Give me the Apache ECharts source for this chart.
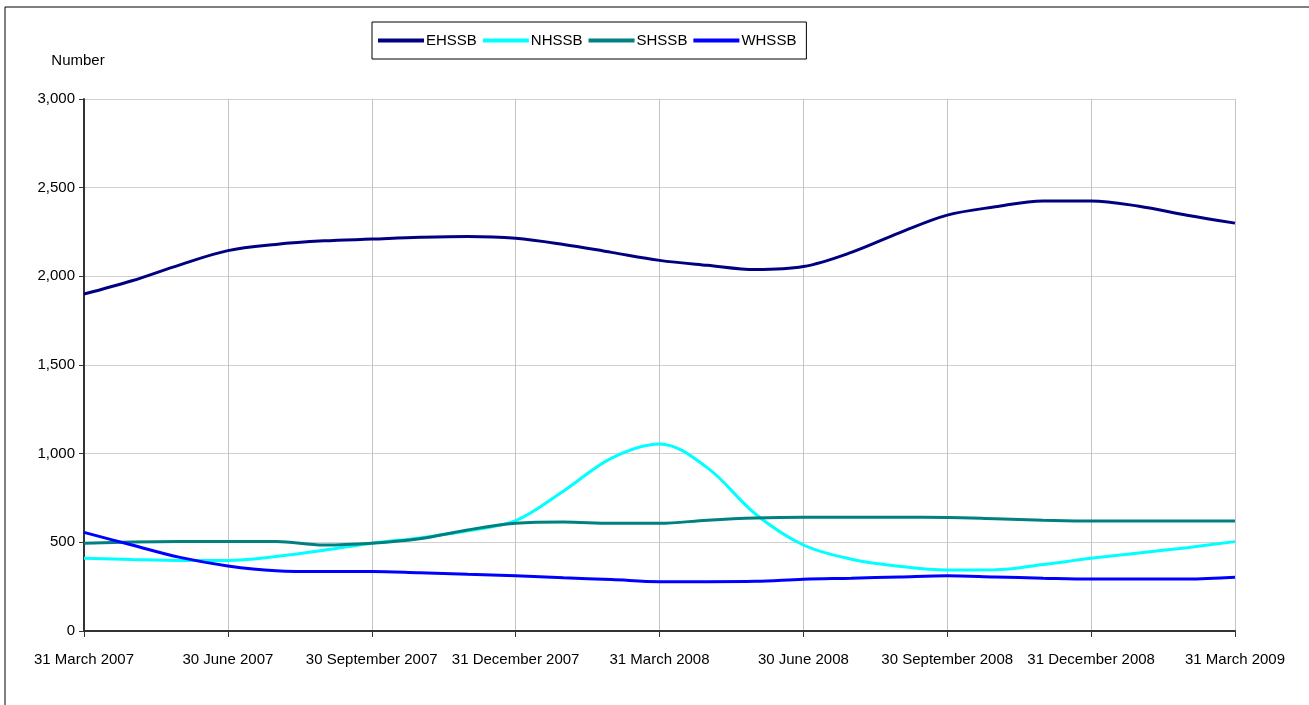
<!DOCTYPE html>
<html>
<head>
<meta charset="utf-8">
<script src="https://cdn.jsdelivr.net/npm/echarts@6/dist/echarts.min.js"></script>
<style>
  html, body { margin: 0; padding: 0; background: #fff; }
  #main { width: 1309px; height: 705px; }
</style>
</head>
<body>
<div id="main"></div>
<script>
// month ends, labels shown every quarter
const months = [
  '31 March 2007', '30 April 2007', '31 May 2007', '30 June 2007', '31 July 2007', '31 August 2007',
  '30 September 2007', '31 October 2007', '30 November 2007', '31 December 2007', '31 January 2008', '29 February 2008',
  '31 March 2008', '30 April 2008', '31 May 2008', '30 June 2008', '31 July 2008', '31 August 2008',
  '30 September 2008', '31 October 2008', '30 November 2008', '31 December 2008', '31 January 2009', '28 February 2009',
  '31 March 2009'
];
const ehssb = [1900, 1975, 2065, 2145, 2180, 2200, 2210, 2220, 2225, 2215, 2180, 2135, 2090, 2062, 2038, 2055, 2135, 2245, 2345, 2392, 2425, 2425, 2395, 2345, 2300];
const nhssb = [410, 403, 398, 398, 420, 455, 495, 525, 565, 622, 790, 975, 1055, 920, 660, 485, 405, 365, 344, 345, 375, 410, 440, 470, 504];
const shssb = [495, 502, 505, 505, 505, 485, 495, 520, 570, 607, 615, 607, 607, 625, 637, 641, 641, 641, 640, 633, 625, 620, 620, 620, 620];
const whssb = [556, 485, 415, 367, 340, 335, 335, 328, 320, 312, 300, 290, 278, 278, 280, 292, 298, 305, 312, 305, 298, 293, 293, 293, 303];

const font = "'Liberation Sans Narrow', 'Liberation Sans', Arial, sans-serif";

var myChart = echarts.init(document.getElementById('main'));

const makeSeries = (name, data, color) => ({
  name: name,
  type: 'line',
  data: data,
  smooth: 0.35,
  symbol: 'none',
  lineStyle: { color: color, width: 3 },
  itemStyle: { color: color }
});

const option = {
  animation: false,
  textStyle: { fontFamily: font },
  graphic: [
    // frame round the chart (only top and left edge are in view)
    { type: 'line', shape: { x1: 5, y1: 7, x2: 1309, y2: 7 }, style: { stroke: '#000', lineWidth: 1 } },
    { type: 'line', shape: { x1: 5, y1: 7, x2: 5, y2: 705 }, style: { stroke: '#000', lineWidth: 1 } }
  ],
  legend: {
    left: 372,
    top: 22,
    padding: [11, 10, 11, 6],
    itemGap: 6,
    itemWidth: 46,
    itemHeight: 4,
    icon: 'rect',
    borderColor: '#000',
    borderWidth: 1,
    textStyle: { fontFamily: font, fontSize: 15, color: '#000', padding: [0, 0, 0, -3] },
    data: ['EHSSB', 'NHSSB', 'SHSSB', 'WHSSB']
  },
  grid: { left: 84, right: 74, top: 99, bottom: 74 },
  xAxis: {
    type: 'category',
    boundaryGap: false,
    data: months,
    axisLine: { lineStyle: { color: '#333', width: 2 } },
    axisTick: { interval: 2, length: 6, lineStyle: { color: '#333' } },
    axisLabel: { interval: 2, margin: 21, fontSize: 15, color: '#000', fontFamily: font },
    splitLine: { show: true, interval: 2, lineStyle: { color: '#c4c4c4', width: 1 } }
  },
  yAxis: {
    type: 'value',
    min: 0,
    max: 3000,
    interval: 500,
    name: 'Number',
    nameLocation: 'end',
    nameGap: 31,
    nameTextStyle: { fontSize: 15, color: '#000', fontFamily: font, padding: [0, 12, 0, 0] },
    axisLine: { show: true, lineStyle: { color: '#333', width: 2 } },
    axisTick: { show: true, length: 5, lineStyle: { color: '#333' } },
    axisLabel: {
      fontSize: 15, color: '#000', margin: 9, fontFamily: font,
      formatter: v => v.toLocaleString('en-US')
    },
    splitLine: { lineStyle: { color: '#d0d0d0', width: 1 } }
  },
  series: [
    makeSeries('EHSSB', ehssb, '#000080'),
    makeSeries('NHSSB', nhssb, '#00ffff'),
    makeSeries('SHSSB', shssb, '#008080'),
    makeSeries('WHSSB', whssb, '#0000ff')
  ]
};

myChart.setOption(option);
</script>
</body>
</html>
